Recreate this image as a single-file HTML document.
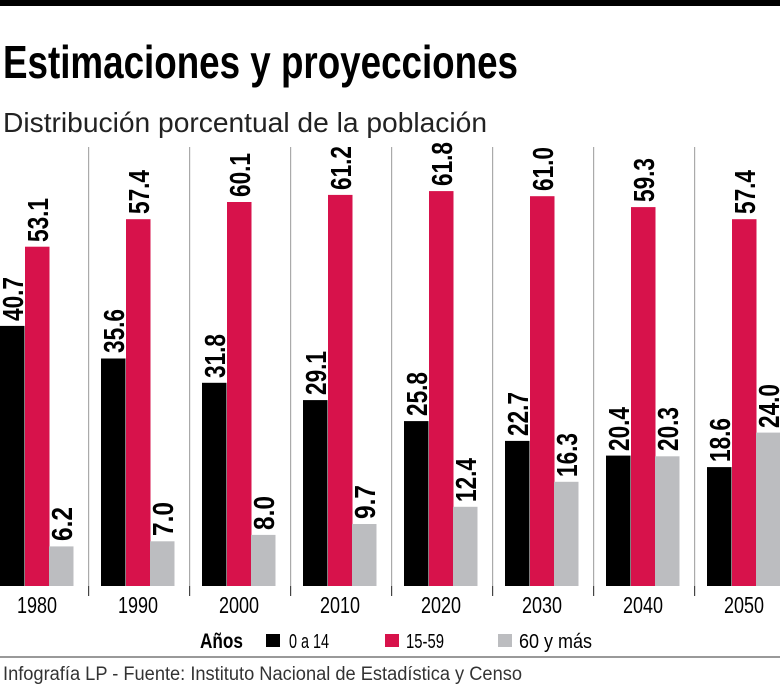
<!DOCTYPE html>
<html><head><meta charset="utf-8"><style>
html,body{margin:0;padding:0;background:#fff;width:780px;height:690px;overflow:hidden}
svg{display:block}
</style></head><body>
<svg width="780" height="690" viewBox="0 0 780 690" xmlns="http://www.w3.org/2000/svg" font-family="Liberation Sans, sans-serif">
<rect x="0" y="0" width="780" height="6" fill="#000"/>
<text x="3" y="78" font-size="46" font-weight="bold" textLength="515" lengthAdjust="spacingAndGlyphs">Estimaciones y proyecciones</text>
<text x="3" y="132" font-size="28" fill="#222" textLength="484" lengthAdjust="spacingAndGlyphs">Distribución porcentual de la población</text>

<g fill="#aaa">
<rect x="88" y="147" width="1.2" height="439"/><rect x="189" y="147" width="1.2" height="439"/><rect x="290" y="147" width="1.2" height="439"/><rect x="391" y="147" width="1.2" height="439"/><rect x="492" y="147" width="1.2" height="439"/><rect x="593" y="147" width="1.2" height="439"/><rect x="694" y="147" width="1.2" height="439"/>
</g>
<g fill="#444">
<rect x="88" y="586" width="1.2" height="10"/><rect x="189" y="586" width="1.2" height="10"/><rect x="290" y="586" width="1.2" height="10"/><rect x="391" y="586" width="1.2" height="10"/><rect x="492" y="586" width="1.2" height="10"/><rect x="593" y="586" width="1.2" height="10"/><rect x="694" y="586" width="1.2" height="10"/>
</g>

<g fill="#000">
<rect x="0" y="325.9" width="24.5" height="260.1"/>
<rect x="101" y="358.5" width="24.5" height="227.5"/>
<rect x="202" y="382.8" width="24.5" height="203.2"/>
<rect x="303" y="400.1" width="24.5" height="185.9"/>
<rect x="404" y="421.1" width="24.5" height="164.9"/>
<rect x="505" y="440.9" width="24.5" height="145.1"/>
<rect x="606" y="455.6" width="24.5" height="130.4"/>
<rect x="707" y="467.1" width="24.5" height="118.9"/>
</g>
<g fill="#d7124b">
<rect x="25" y="246.7" width="24.5" height="339.3"/>
<rect x="126" y="219.2" width="24.5" height="366.8"/>
<rect x="227" y="202" width="24.5" height="384"/>
<rect x="328" y="194.9" width="24.5" height="391.1"/>
<rect x="429" y="191.1" width="24.5" height="394.9"/>
<rect x="530" y="196.2" width="24.5" height="389.8"/>
<rect x="631" y="207.1" width="24.5" height="378.9"/>
<rect x="732" y="219.2" width="24.5" height="366.8"/>
</g>
<g fill="#bcbdc0">
<rect x="49" y="546.4" width="24.5" height="39.6"/>
<rect x="150" y="541.3" width="24.5" height="44.7"/>
<rect x="251" y="534.9" width="24.5" height="51.1"/>
<rect x="352" y="524" width="24.5" height="62"/>
<rect x="453" y="506.8" width="24.5" height="79.2"/>
<rect x="554" y="481.8" width="24.5" height="104.2"/>
<rect x="655" y="456.3" width="24.5" height="129.7"/>
<rect x="756" y="432.6" width="24.5" height="153.4"/>
</g>

<g font-size="29" font-weight="bold">
<text transform="translate(23,321) rotate(-90)" textLength="44" lengthAdjust="spacingAndGlyphs">40.7</text>
<text transform="translate(48,242) rotate(-90)" textLength="44" lengthAdjust="spacingAndGlyphs">53.1</text>
<text transform="translate(72,541) rotate(-90)" textLength="34" lengthAdjust="spacingAndGlyphs">6.2</text>
<text transform="translate(124,353) rotate(-90)" textLength="44" lengthAdjust="spacingAndGlyphs">35.6</text>
<text transform="translate(149,214) rotate(-90)" textLength="44" lengthAdjust="spacingAndGlyphs">57.4</text>
<text transform="translate(173,536) rotate(-90)" textLength="34" lengthAdjust="spacingAndGlyphs">7.0</text>
<text transform="translate(225,378) rotate(-90)" textLength="44" lengthAdjust="spacingAndGlyphs">31.8</text>
<text transform="translate(250,197) rotate(-90)" textLength="44" lengthAdjust="spacingAndGlyphs">60.1</text>
<text transform="translate(274,530) rotate(-90)" textLength="34" lengthAdjust="spacingAndGlyphs">8.0</text>
<text transform="translate(326,395) rotate(-90)" textLength="44" lengthAdjust="spacingAndGlyphs">29.1</text>
<text transform="translate(351,190) rotate(-90)" textLength="44" lengthAdjust="spacingAndGlyphs">61.2</text>
<text transform="translate(375,519) rotate(-90)" textLength="34" lengthAdjust="spacingAndGlyphs">9.7</text>
<text transform="translate(427,416) rotate(-90)" textLength="44" lengthAdjust="spacingAndGlyphs">25.8</text>
<text transform="translate(452,186) rotate(-90)" textLength="44" lengthAdjust="spacingAndGlyphs">61.8</text>
<text transform="translate(476,502) rotate(-90)" textLength="44" lengthAdjust="spacingAndGlyphs">12.4</text>
<text transform="translate(528,436) rotate(-90)" textLength="44" lengthAdjust="spacingAndGlyphs">22.7</text>
<text transform="translate(553,191) rotate(-90)" textLength="44" lengthAdjust="spacingAndGlyphs">61.0</text>
<text transform="translate(577,477) rotate(-90)" textLength="44" lengthAdjust="spacingAndGlyphs">16.3</text>
<text transform="translate(629,451) rotate(-90)" textLength="44" lengthAdjust="spacingAndGlyphs">20.4</text>
<text transform="translate(654,202) rotate(-90)" textLength="44" lengthAdjust="spacingAndGlyphs">59.3</text>
<text transform="translate(678,451) rotate(-90)" textLength="44" lengthAdjust="spacingAndGlyphs">20.3</text>
<text transform="translate(730,462) rotate(-90)" textLength="44" lengthAdjust="spacingAndGlyphs">18.6</text>
<text transform="translate(755,214) rotate(-90)" textLength="44" lengthAdjust="spacingAndGlyphs">57.4</text>
<text transform="translate(779,428) rotate(-90)" textLength="44" lengthAdjust="spacingAndGlyphs">24.0</text>
</g>

<g font-size="23" text-anchor="middle">
<text x="37" y="613" textLength="40" lengthAdjust="spacingAndGlyphs">1980</text>
<text x="138" y="613" textLength="40" lengthAdjust="spacingAndGlyphs">1990</text>
<text x="239" y="613" textLength="40" lengthAdjust="spacingAndGlyphs">2000</text>
<text x="340" y="613" textLength="40" lengthAdjust="spacingAndGlyphs">2010</text>
<text x="441" y="613" textLength="40" lengthAdjust="spacingAndGlyphs">2020</text>
<text x="542" y="613" textLength="40" lengthAdjust="spacingAndGlyphs">2030</text>
<text x="643" y="613" textLength="40" lengthAdjust="spacingAndGlyphs">2040</text>
<text x="744" y="613" textLength="40" lengthAdjust="spacingAndGlyphs">2050</text>
</g>

<text x="200" y="648" font-size="21" font-weight="bold" textLength="43" lengthAdjust="spacingAndGlyphs">Años</text>
<rect x="266" y="634" width="14" height="13" fill="#000"/>
<text x="289" y="648" font-size="20" textLength="40" lengthAdjust="spacingAndGlyphs">0 a 14</text>
<rect x="385" y="634" width="14" height="13" fill="#d7124b"/>
<text x="406" y="648" font-size="20" textLength="38" lengthAdjust="spacingAndGlyphs">15-59</text>
<rect x="498" y="634" width="14" height="13" fill="#bcbdc0"/>
<text x="519" y="648" font-size="20" textLength="73" lengthAdjust="spacingAndGlyphs">60 y más</text>
<rect x="0" y="656" width="780" height="2" fill="#999"/>
<text x="3" y="680" font-size="19" fill="#333" textLength="519" lengthAdjust="spacingAndGlyphs">Infografía LP  - Fuente: Instituto Nacional de Estadística y Censo</text>
</svg>
</body></html>
